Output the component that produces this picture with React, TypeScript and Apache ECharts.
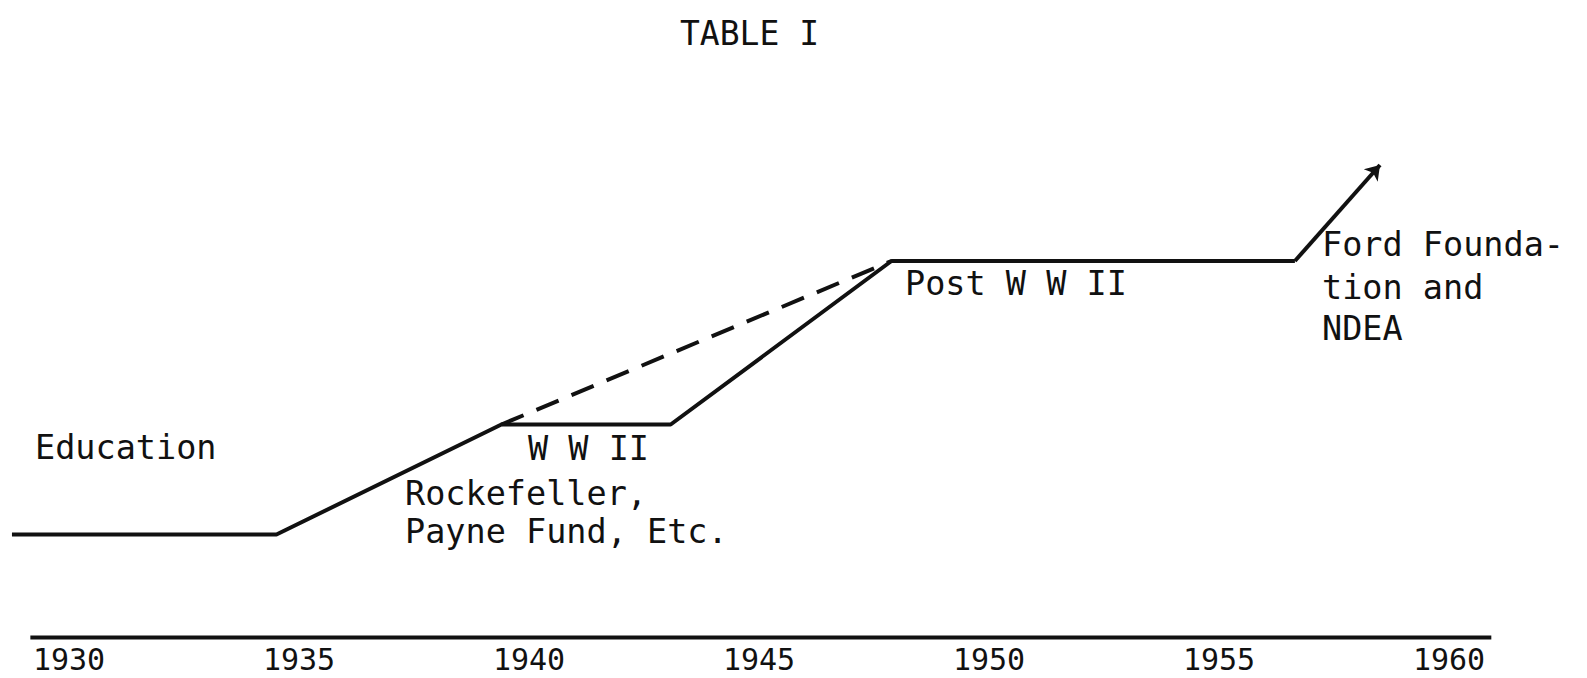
import React, { useEffect, useRef } from "react";
import * as echarts from "echarts";

// Axis ticks (years)
const tickYears = [1930, 1935, 1940, 1945, 1950, 1955, 1960];

// Solid trend line (year, relative level)
const solidYears = [1928.76, 1934.51, 1939.4, 1943.08, 1947.88, 1956.65, 1958.5];
const solidLevels = [1.01, 1.01, 2.11, 2.11, 3.745, 3.745, 4.705];

// Dashed trend line
const dashedYears = [1939.4, 1947.88];
const dashedLevels = [2.11, 3.745];

// Baseline (time axis)
const baseYears = [1929.16, 1960.92];
const baseLevels = [-0.02, -0.02];

const titleText = "TABLE I";

// Annotations
const noteTexts = [
  "Education",
  "W W II",
  "Rockefeller,",
  "Payne Fund, Etc.",
  "Post W W II",
  "Ford Founda-",
  "tion and",
  "NDEA",
];

const FONT = "'DejaVu Sans Mono', 'Liberation Mono', monospace";

export default function App() {
  const ref = useRef<HTMLDivElement>(null);

  useEffect(() => {
    if (!ref.current) return;
    const chart = echarts.init(ref.current, null, { renderer: "svg" });

    const notePos: [number, number][] = [
      [35, 447],
      [528, 448],
      [405, 493],
      [405, 531],
      [905, 283],
      [1322, 244],
      [1322, 287],
      [1322, 328],
    ];

    const n = solidYears.length;
    const solidPts = solidYears.map((y, i) => [y, solidLevels[i]]);

    const option: any = {
      animation: false,
      backgroundColor: "#ffffff",
      title: {
        text: titleText,
        left: 675,
        top: 12,
        textStyle: {
          fontFamily: FONT,
          fontSize: 33,
          fontWeight: "normal",
          color: "#111",
        },
      },
      grid: { left: 0, right: 0, top: 35.5, bottom: 42.5 },
      xAxis: {
        type: "value",
        min: 1928.5,
        max: 1963,
        axisLine: { show: false },
        axisTick: { show: false },
        splitLine: { show: false },
        axisLabel: {
          customValues: tickYears,
          fontFamily: FONT,
          fontSize: 30,
          lineHeight: 30,
          color: "#111",
          margin: 9,
          formatter: (v: number) => String(Math.round(v)),
        },
      },
      yAxis: {
        type: "value",
        min: 0,
        max: 6,
        show: false,
      },
      series: [
        {
          type: "line",
          data: baseYears.map((y, i) => [y, baseLevels[i]]),
          symbol: "none",
          clip: false,
          lineStyle: { color: "#111", width: 4 },
          silent: true,
        },
        {
          type: "line",
          data: dashedYears.map((y, i) => [y, dashedLevels[i]]),
          symbol: "none",
          lineStyle: { color: "#111", width: 4, type: [24, 14] },
          silent: true,
        },
        {
          type: "line",
          data: solidPts.slice(0, n - 1),
          symbol: "none",
          lineStyle: { color: "#111", width: 4 },
          silent: true,
        },
        {
          type: "lines",
          coordinateSystem: "cartesian2d",
          symbol: ["none", "arrow"],
          symbolSize: 14,
          lineStyle: { color: "#111", width: 4, opacity: 1, curveness: 0 },
          data: [{ coords: [solidPts[n - 2], solidPts[n - 1]] }],
          silent: true,
        },
      ],
      graphic: noteTexts.map((t, i) => ({
        type: "text",
        x: notePos[i][0],
        y: notePos[i][1],
        style: {
          text: t,
          fontFamily: FONT,
          fontSize: 33.5,
          fill: "#111",
          verticalAlign: "middle",
        },
      })),
    };

    chart.setOption(option);
    return () => chart.dispose();
  }, []);

  return (
    <div
      ref={ref}
      style={{ position: "absolute", left: 0, top: 0, width: 1587, height: 678 }}
    />
  );
}
